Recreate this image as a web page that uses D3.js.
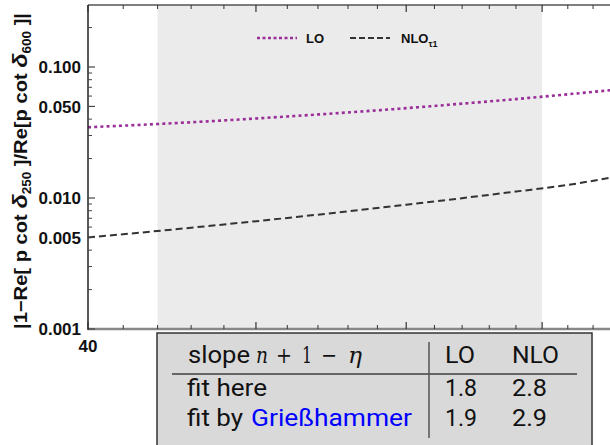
<!DOCTYPE html>
<html><head><meta charset="utf-8">
<script src="https://cdn.jsdelivr.net/npm/d3@7"></script>
<style>body{margin:0;background:#fff}svg{display:block}</style>
</head><body>
<svg id="c" width="610" height="445"></svg>
<script>
const kValues = [40, 42, 44, 46, 48, 50, 52, 54, 56, 57.7];
const loValues = [0.0347, 0.0367, 0.0391, 0.0419, 0.0450, 0.0485, 0.0525, 0.0569, 0.0619, 0.0665];
const nloValues = [0.0050, 0.0056, 0.00628, 0.00704, 0.00791, 0.00888, 0.00997, 0.0112, 0.01258, 0.0143];
const fitRange = [42, 55];
const yMajorTicks = [0.001, 0.005, 0.01, 0.05, 0.1];
const yTickLabels = ["0.001", "0.005", "0.010", "0.050", "0.100"];
const yMinorTicks = [0.002,0.003,0.004,0.006,0.007,0.008,0.009,0.02,0.03,0.04,0.06,0.07,0.08,0.09,0.2];
const xMajorTicks = [40, 45, 50, 55];
const xTickLabels = ["40"];
const xMinorTicks = [41,42,43,44,46,47,48,49,51,52,53,54,56,57];
const tableHeader = ["LO", "NLO"];
const tableRows = [["fit here", null, "1.8", "2.8"], ["fit by", "Grießhammer", "1.9", "2.9"]];
const legendItems = ["LO", "NLO"];

const svg = d3.select("#c");
const L = 88, R = 610, T = 5, B = 329;
const x = d3.scaleLog().domain([40, 57.7]).range([L, L + 1426 * Math.log(57.7/40)]);
const y = d3.scaleLog().domain([0.001, 0.3]).range([B, T - 0.5]);

// shaded fit region
svg.append("rect").attr("x", x(fitRange[0])).attr("y", T).attr("width", x(fitRange[1]) - x(fitRange[0]))
  .attr("height", B - T).attr("fill", "#ebebeb");

// curves
const line = d3.line().x((d, i) => x(kValues[i])).y(d => y(d)).curve(d3.curveMonotoneX);
svg.append("path").datum(loValues).attr("d", line).attr("fill", "none")
  .attr("stroke", "#9a2f9a").attr("stroke-width", 2.6).attr("stroke-dasharray", "3,3.2");
svg.append("path").datum(nloValues).attr("d", line).attr("fill", "none")
  .attr("stroke", "#333").attr("stroke-width", 2).attr("stroke-dasharray", "7,4");

// frame lines
svg.append("line").attr("x1", L).attr("x2", R).attr("y1", T).attr("y2", T).attr("stroke", "#555").attr("stroke-width", 1.5);
svg.append("line").attr("x1", L).attr("x2", R).attr("y1", B).attr("y2", B).attr("stroke", "#888").attr("stroke-width", 2.5);
svg.append("line").attr("x1", L).attr("x2", L).attr("y1", T).attr("y2", B + 1).attr("stroke", "#222").attr("stroke-width", 1.5);

// y ticks
const gy = svg.append("g");
yMajorTicks.forEach((v, i) => {
  gy.append("line").attr("x1", L).attr("x2", L + 7).attr("y1", y(v)).attr("y2", y(v)).attr("stroke", "#444").attr("stroke-width", 1.2);
  gy.append("text").attr("x", L - 7).attr("y", y(v)).attr("dy", "0.36em").attr("text-anchor", "end")
    .attr("font-family", "Liberation Sans, Arial, sans-serif").attr("font-weight", "bold").attr("font-size", 17)
    .attr("fill", "#111").text(yTickLabels[i]);
});
yMinorTicks.forEach(v => {
  gy.append("line").attr("x1", L).attr("x2", L + 4).attr("y1", y(v)).attr("y2", y(v)).attr("stroke", "#444").attr("stroke-width", 1);
});

// x ticks (bottom and top)
const gx = svg.append("g");
xMajorTicks.forEach(v => {
  gx.append("line").attr("x1", x(v)).attr("x2", x(v)).attr("y1", B).attr("y2", B - 7).attr("stroke", "#333").attr("stroke-width", 1.2);
  gx.append("line").attr("x1", x(v)).attr("x2", x(v)).attr("y1", T).attr("y2", T + 7).attr("stroke", "#333").attr("stroke-width", 1.2);
});
xTickLabels.forEach(s => {
  gx.append("text").attr("x", x(+s)).attr("y", 352).attr("text-anchor", "middle")
    .attr("font-family", "Liberation Sans, Arial, sans-serif").attr("font-weight", "bold").attr("font-size", 17)
    .attr("fill", "#111").text(s);
});
xMinorTicks.forEach(v => {
  gx.append("line").attr("x1", x(v)).attr("x2", x(v)).attr("y1", B).attr("y2", B - 4).attr("stroke", "#333").attr("stroke-width", 1);
  gx.append("line").attr("x1", x(v)).attr("x2", x(v)).attr("y1", T).attr("y2", T + 4).attr("stroke", "#333").attr("stroke-width", 1);
});

// y axis label
const yl = svg.append("text").attr("transform", "translate(27,171) rotate(-90)")
  .attr("text-anchor", "middle").attr("font-family", "Liberation Sans, Arial, sans-serif")
  .attr("font-weight", "bold").attr("font-size", 18).attr("fill", "#111")
  .attr("textLength", 316).attr("lengthAdjust", "spacingAndGlyphs");
yl.append("tspan").text("|1\u2212Re[ p cot ");
yl.append("tspan").attr("font-style", "italic").attr("font-size", 21).text("\u03b4");
yl.append("tspan").attr("font-size", 12).attr("dy", 4).text("250");
yl.append("tspan").attr("dy", -4).text(" ]/Re[p cot  ");
yl.append("tspan").attr("font-style", "italic").attr("font-size", 21).text("\u03b4");
yl.append("tspan").attr("font-size", 12).attr("dy", 4).text("600");
yl.append("tspan").attr("dy", -4).text(" ]|");

// legend
const lg = svg.append("g");
const legY = 38;
lg.append("line").attr("x1", 257).attr("x2", 297).attr("y1", legY).attr("y2", legY)
  .attr("stroke", "#9a2f9a").attr("stroke-width", 2.6).attr("stroke-dasharray", "3,2.5");
lg.append("text").attr("x", 306).attr("y", legY + 5).attr("font-family", "Liberation Sans, Arial, sans-serif")
  .attr("font-weight", "bold").attr("font-size", 13).attr("fill", "#111").text(legendItems[0]);
lg.append("line").attr("x1", 350).attr("x2", 390).attr("y1", legY).attr("y2", legY)
  .attr("stroke", "#333").attr("stroke-width", 2).attr("stroke-dasharray", "6,3");
const lt = lg.append("text").attr("x", 401).attr("y", legY + 5).attr("font-family", "Liberation Sans, Arial, sans-serif")
  .attr("font-weight", "bold").attr("font-size", 13).attr("fill", "#111");
lt.append("tspan").text(legendItems[1]);
lt.append("tspan").attr("font-size", 9).attr("dy", 4).text("\u03c41");

// table
const tb = svg.append("g");
tb.append("rect").attr("x", 157).attr("y", 333).attr("width", 435).attr("height", 120)
  .attr("fill", "#d9d9d9").attr("stroke", "#333").attr("stroke-width", 1.5);
tb.append("line").attr("x1", 172).attr("x2", 577).attr("y1", 374).attr("y2", 374).attr("stroke", "#666").attr("stroke-width", 2);
tb.append("line").attr("x1", 429).attr("x2", 429).attr("y1", 342).attr("y2", 438).attr("stroke", "#555").attr("stroke-width", 1.5);
const tf = "Roboto, 'Noto Sans', sans-serif";
const mf = "'DejaVu Serif', serif";
function txt(s, x0, y0, w, opts) {
  const t = tb.append("text").attr("x", x0).attr("y", y0).attr("font-family", (opts && opts.font) || tf)
    .attr("font-size", 23).attr("fill", (opts && opts.fill) || "#111").text(s);
  if (opts && opts.italic) t.attr("font-style", "italic");
  if (w) t.attr("textLength", w).attr("lengthAdjust", "spacingAndGlyphs");
  return t;
}
txt("slope", 188, 363, 62);
txt("n", 256, 363, 12, {font: mf, italic: true});
txt("+", 276, 363, 16, {font: mf});
txt("1", 302, 363, 10, {font: mf});
txt("\u2212", 321, 363, 16, {font: mf});
txt("\u03b7", 348, 363, 14, {font: mf, italic: true});
txt(tableHeader[0], 445, 363, 30);
txt(tableHeader[1], 512, 363, 47);
const rowY = [396, 426];
tableRows.forEach((r, i) => {
  if (r[1]) {
    txt(r[0], 187, rowY[i], 56);
    txt(r[1], 251, rowY[i], 161, {fill: "#0000ff"});
  } else {
    txt(r[0], 187, rowY[i], 80);
  }
  txt(r[2], 445, rowY[i], 32);
  txt(r[3], 512, rowY[i], 35);
});
</script>
</body></html>
